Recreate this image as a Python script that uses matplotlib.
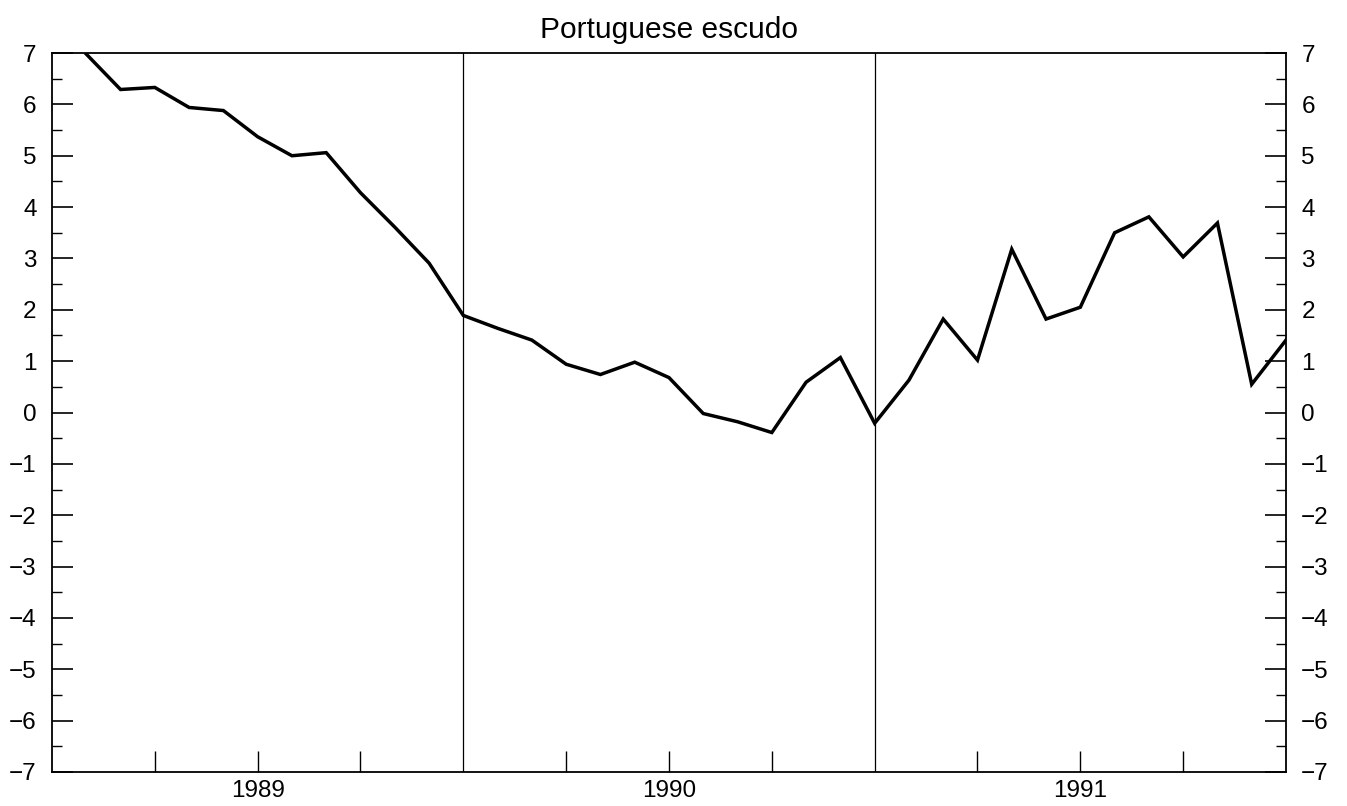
import numpy as np
import matplotlib
matplotlib.use('Agg')
import matplotlib.pyplot as plt
from matplotlib.ticker import FixedLocator, MultipleLocator, NullFormatter

plt.rcParams['font.family'] = ['Liberation Sans', 'DejaVu Sans']

# monthly values, end of month, Jan 1989 .. Dec 1991
months = np.arange(1, 37)
values = [6.98, 6.29, 6.33, 5.94, 5.88, 5.37, 5.00, 5.06, 4.28, 3.61, 2.91, 1.89,
          1.64, 1.41, 0.94, 0.74, 0.98, 0.68, -0.02, -0.18, -0.39, 0.59, 1.07, -0.21,
          0.63, 1.82, 1.02, 3.18, 1.82, 2.05, 3.50, 3.81, 3.03, 3.69, 0.55, 1.41]
years = [1989, 1990, 1991]
title = 'Portuguese escudo'

x = 1989 + months / 12.0

fig = plt.figure(figsize=(13.47, 8.06), dpi=100)
ax = fig.add_axes([0.0386, 0.0422, 0.9161, 0.892])

ax.plot(x, values, color='black', lw=2.5, solid_joinstyle='miter', clip_on=True)

# year boundaries
for yr in years[1:]:
    ax.axvline(yr, color='black', lw=0.9)

ax.set_xlim(1989, 1992)
ax.set_ylim(-7, 7)

# x: labels at mid-year, ticks every quarter
quarter = [yr + q for yr in years for q in (0.25, 0.5, 0.75)]
ax.xaxis.set_major_locator(FixedLocator([yr + 0.5 for yr in years]))
ax.xaxis.set_minor_locator(FixedLocator(quarter))
ax.set_xticklabels([str(yr) for yr in years])
ax.tick_params(axis='x', which='both', direction='in', length=15, width=1.0,
               labelsize=17.5, pad=6, top=False)

ax.yaxis.set_major_locator(MultipleLocator(1))
ax.yaxis.set_minor_locator(MultipleLocator(0.5))
ax.yaxis.set_minor_formatter(NullFormatter())
ax.tick_params(axis='y', which='major', direction='in', length=15, width=1.2,
               labelsize=17.5, pad=11, left=True, right=True, labelleft=True, labelright=True)
ax.tick_params(axis='y', which='minor', direction='in', length=7.5, width=1.0,
               left=True, right=True)

for s in ax.spines.values():
    s.set_linewidth(1.3)

ax.set_title(title, fontsize=21.5, pad=11)

fig.savefig('out.png', dpi=100)
